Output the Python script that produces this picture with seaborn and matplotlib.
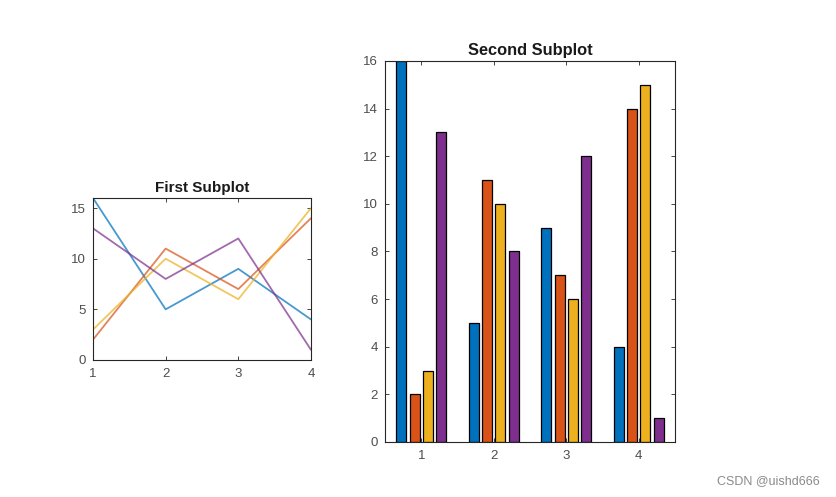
import numpy as np
import pandas as pd
import matplotlib
matplotlib.use("Agg")
import matplotlib.pyplot as plt
import seaborn as sns

# Data (magic(4))
x_vals = [1, 2, 3, 4]
col1 = [16, 5, 9, 4]
col2 = [2, 11, 7, 14]
col3 = [3, 10, 6, 15]
col4 = [13, 8, 12, 1]
series_names = ["c1", "c2", "c3", "c4"]
colors = ["#0072BD", "#D95319", "#EDB120", "#7E2F8E"]

sns.set_theme(style="white")
plt.rcParams['font.family'] = ['Liberation Sans', 'DejaVu Sans']

rows = []
for name, vals in zip(series_names, [col1, col2, col3, col4]):
    for xv, v in zip(x_vals, vals):
        rows.append({"x": xv, "series": name, "value": v})
df_lines = pd.DataFrame(rows)

bar_rows = []
mat = np.array([col1, col2, col3, col4]).T
for i, xv in enumerate(x_vals):
    for j, name in enumerate(series_names):
        bar_rows.append({"x": xv, "series": name, "value": mat[i][j]})
df_bars = pd.DataFrame(bar_rows)

fig = plt.figure(figsize=(8.36, 4.97), dpi=100)
fig.patch.set_facecolor("white")

ax1 = fig.add_axes([0.1112, 0.2757, 0.2608, 0.326])
ax2 = fig.add_axes([0.4605, 0.1107, 0.3469, 0.7666])

text_color = "#4d4d4d"
spine_color = "#262626"

sns.lineplot(data=df_lines, x="x", y="value", hue="series", palette=colors,
             ax=ax1, linewidth=1.3, alpha=0.72, legend=False)
ax1.set_xlim(1, 4)
ax1.set_ylim(0, 16)
ax1.set_xticks([1, 2, 3, 4])
ax1.set_yticks([0, 5, 10, 15])
ax1.set_title("First Subplot", fontsize=11, fontweight="bold", color="#1a1a1a", pad=4)

sns.barplot(data=df_bars, x="x", y="value", hue="series", palette=colors,
            ax=ax2, native_scale=True, width=0.728, gap=0.24,
            edgecolor="black", linewidth=0.9, saturation=1, legend=False)
ax2.set_xlim(0.5, 4.5)
ax2.set_ylim(0, 16)
ax2.set_xticks([1, 2, 3, 4])
ax2.set_yticks(list(range(0, 17, 2)))
ax2.set_title("Second Subplot", fontsize=11.8, fontweight="bold", color="#1a1a1a", pad=4)

for ax in (ax1, ax2):
    ax.set_xlabel("")
    ax.set_ylabel("")
    ax.set_facecolor("white")
    for s in ax.spines.values():
        s.set_visible(True)
        s.set_color(spine_color)
        s.set_linewidth(0.8)
    ax.tick_params(axis="both", which="both", direction="in", length=3,
                   width=0.6, color=spine_color, labelcolor=text_color,
                   labelsize=9.5, top=True, right=True, bottom=True, left=True)
    ax.tick_params(axis="y", pad=5)
    ax.tick_params(axis="x", pad=5.5)

fig.text(0.981, 0.032, "CSDN @uishd666", ha="right", va="center",
         fontsize=9, color="#8a8a8a")

fig.savefig("out.png", dpi=100, facecolor="white")
